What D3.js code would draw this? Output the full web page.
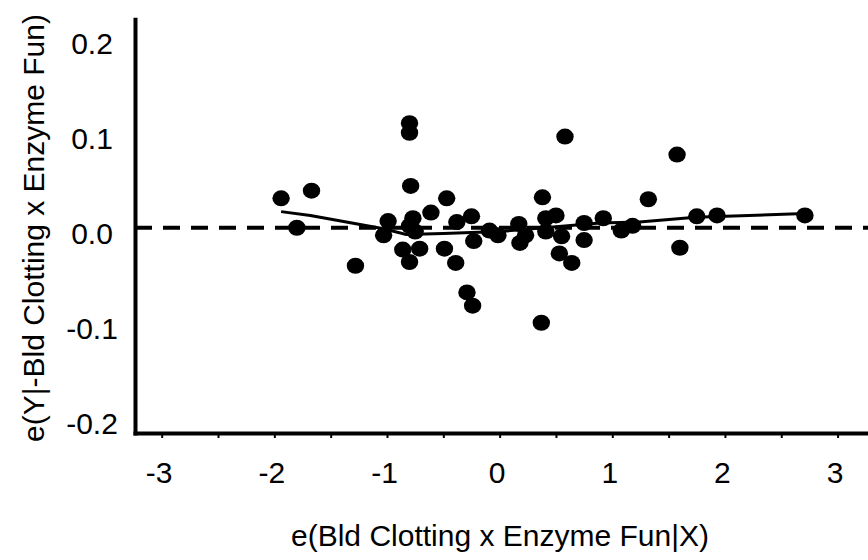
<!DOCTYPE html>
<html>
<head>
<meta charset="utf-8">
<script src="https://cdn.jsdelivr.net/npm/d3@7"></script>
<style>
  body { margin: 0; background: #fff; }
  text { font-family: 'Liberation Sans', Arial, sans-serif; fill: #000; }
</style>
</head>
<body>
<div id="chart"></div>
<script>
// residuals (added-variable plot)
const xValues = [-1.94, -1.80, -1.67, -1.28, -1.03, -0.99, -0.86, -0.80, -0.80, -0.79,
  -0.77, -0.80, -0.75, -0.80, -0.71, -0.61, -0.47, -0.38, -0.49, -0.39,
  -0.25, -0.23, -0.29, -0.24, -0.09, -0.015, 0.17, 0.23, 0.18, 0.38,
  0.41, 0.50, 0.41, 0.55, 0.53, 0.64, 0.58, 0.37, 0.75, 0.75,
  0.92, 1.08, 1.18, 1.32, 1.575, 1.60, 1.75, 1.93, 2.71]
const yValues = [0.031, 0.000, 0.039, -0.040, -0.008, 0.007, -0.023, 0.110, 0.100, 0.044,
  0.010, 0.002, -0.004, -0.036, -0.022, 0.016, 0.031, 0.006, -0.022, -0.037,
  0.012, -0.014, -0.068, -0.082, -0.003, -0.008, 0.004, -0.008, -0.016, 0.032,
  0.010, 0.013, -0.004, -0.009, -0.027, -0.037, 0.096, -0.100, 0.005, -0.013,
  0.010, -0.003, 0.002, 0.030, 0.077, -0.021, 0.012, 0.013, 0.013]

// smoother line
const fitX = [-1.94, -1.68, -1.03, -0.83, -0.5, 0, 0.5, 0.89, 1.24, 1.74, 2.71]
const fitY = [0.017, 0.013, -0.001, -0.007, -0.006, -0.004, 0.001, 0.005, 0.006, 0.011, 0.015]

const xTicks = [-3, -2.5, -2, -1.5, -1, -0.5, 0, 0.5, 1, 1.5, 2, 2.5, 3]
const yTicks = [-0.2, -0.1, 0, 0.1, 0.2]

const width = 868
const height = 560

const svg = d3
  .select('#chart')
  .append('svg')
  .attr('width', width)
  .attr('height', height)

const x = d3.scaleLinear().domain([-3.237, 3.27]).range([135, 868])
const y = d3.scaleLinear().domain([-0.216, 0.2194]).range([433, 19.3])

const fmt = d => d3.format('.1f')(d).replace('\u2212', '-')

// x axis
const xAxis = svg
  .append('g')
  .attr('transform', 'translate(0,' + y(-0.216) + ')')
  .call(
    d3.axisBottom(x)
      .tickValues(xTicks)
      .tickSizeInner(5)
      .tickSizeOuter(0)
      .tickFormat(d => (Number.isInteger(d) ? String(d) : ''))
  )
xAxis.select('.domain').attr('stroke-width', 4).attr('stroke-linecap', 'square')
xAxis.selectAll('.tick line').attr('stroke-width', 2)
xAxis
  .selectAll('.tick text')
  .attr('y', 50)
  .attr('dy', 0)
  .attr('dx', -3)
  .style('font-size', '30px')

// y axis
const yAxis = svg
  .append('g')
  .attr('transform', 'translate(' + x(-3.237) + ',0)')
  .call(
    d3.axisLeft(y)
      .tickValues(yTicks)
      .tickSize(0)
      .tickFormat(fmt)
  )
yAxis.select('.domain').attr('stroke-width', 4).attr('stroke-linecap', 'square')
yAxis
  .selectAll('.tick text')
  .attr('x', -43)
  .attr('y', 5)
  .attr('dy', '0.35em')
  .attr('text-anchor', 'middle')
  .style('font-size', '30px')

// reference line at zero
svg
  .append('line')
  .attr('x1', x(-3.237))
  .attr('x2', x(3.27))
  .attr('y1', y(0))
  .attr('y2', y(0))
  .attr('stroke', '#000')
  .attr('stroke-width', 4)
  .attr('stroke-dasharray', '17,11')

// smoother
const line = d3.line().x(d => x(d[0])).y(d => y(d[1]))
svg
  .append('path')
  .datum(d3.zip(fitX, fitY))
  .attr('d', line)
  .attr('fill', 'none')
  .attr('stroke', '#000')
  .attr('stroke-width', 3)

// points
svg
  .selectAll('.dot')
  .data(d3.zip(xValues, yValues))
  .enter()
  .append('ellipse')
  .attr('class', 'dot')
  .attr('cx', d => x(d[0]))
  .attr('cy', d => y(d[1]))
  .attr('rx', 8.7)
  .attr('ry', 8)
  .attr('fill', '#000')

// axis titles
svg
  .append('text')
  .text('e(Bld Clotting x Enzyme Fun|X)')
  .attr('x', 500)
  .attr('y', 546)
  .attr('text-anchor', 'middle')
  .style('font-size', '30px')

svg
  .append('text')
  .text('e(Y|-Bld Clotting x Enzyme Fun)')
  .attr('transform', 'translate(44,228) rotate(-90)')
  .attr('text-anchor', 'middle')
  .style('font-size', '30px')
</script>
</body>
</html>
